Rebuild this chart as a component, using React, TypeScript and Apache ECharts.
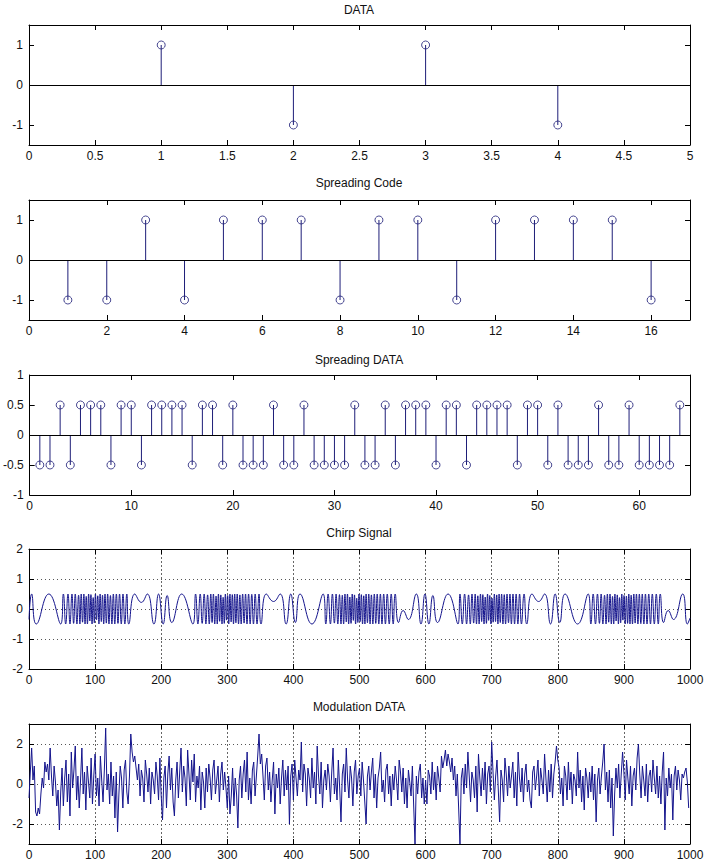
import React, { useEffect, useRef } from "react";
import * as echarts from "echarts";

// ---------- DATA ----------
const titles = ["DATA", "Spreading Code", "Spreading DATA", "Chirp Signal", "Modulation DATA"];

const dataX = [1, 2, 3, 4];
const dataY = [1, -1, 1, -1];

const codeY = [-1, -1, 1, -1, 1, 1, 1, -1, 1, 1, -1, 1, 1, 1, 1, -1];

const spreadY = [
  -0.5, -0.5, 0.5, -0.5, 0.5, 0.5, 0.5, -0.5, 0.5, 0.5, -0.5, 0.5, 0.5, 0.5, 0.5, -0.5,
  0.5, 0.5, -0.5, 0.5, -0.5, -0.5, -0.5, 0.5, -0.5, -0.5, 0.5, -0.5, -0.5, -0.5, -0.5, 0.5,
  -0.5, -0.5, 0.5, -0.5, 0.5, 0.5, 0.5, -0.5, 0.5, 0.5, -0.5, 0.5, 0.5, 0.5, 0.5, -0.5,
  0.5, 0.5, -0.5, 0.5, -0.5, -0.5, -0.5, 0.5, -0.5, -0.5, 0.5, -0.5, -0.5, -0.5, -0.5, 0.5,
];

// chirp signal: [sample, value] turning points
const chirpPoints: number[][] = [
  [0, -0.35], [4, 0.5], [11, -0.5], [30, 0.5], [48, -0.5],
  [52, 0.5], [55.5, -0.5], [59, 0.5], [62, -0.5], [65, 0.5], [67.5, -0.48], [70, 0.5], [72.5, -0.5], [75, 0.46], [77, -0.5],
  [79, 0.5], [81, -0.44], [83, 0.5], [84.8, -0.5], [86.6, 0.42], [88.4, -0.5], [90.2, 0.5], [92, -0.4], [93.7, 0.48], [95.4, -0.5],
  [97.1, 0.38], [98.8, -0.46], [100.5, 0.5], [102.2, -0.36], [104, 0.44], [105.8, -0.5], [107.6, 0.5], [109.4, -0.42], [111.2, 0.46], [113, -0.5],
  [115, 0.5], [117, -0.47], [119, 0.5], [121, -0.5], [123.2, 0.45], [125.4, -0.5], [127.6, 0.5], [129.8, -0.5], [132.2, 0.5], [134.6, -0.48],
  [137, 0.5], [139.6, -0.5], [142.2, 0.5], [145, -0.5], [148, 0.5],
  [151, -0.5], [160, 0.5], [170, 0.22], [179, 0.5], [189, -0.5], [196, 0.5], [203, -0.5], [209, 0.45], [216, -0.45], [231, 0.5], [248, -0.5],
  [252, 0.5], [255.5, -0.5], [259, 0.5], [262, -0.48], [265, 0.5], [267.6, -0.5], [270.2, 0.47], [272.7, -0.5], [275, 0.5], [277, -0.45],
  [279, 0.5], [281, -0.5], [283, 0.43], [284.8, -0.5], [286.6, 0.5], [288.4, -0.41], [290.2, 0.47], [292, -0.5], [293.7, 0.39], [295.4, -0.48],
  [297.1, 0.5], [298.8, -0.37], [300.5, 0.45], [302.2, -0.5], [304, 0.5], [305.8, -0.43], [307.6, 0.48], [309.4, -0.5], [311.2, 0.5], [313, -0.46],
  [315, 0.5], [317, -0.5], [319, 0.47], [321, -0.5], [323.2, 0.5], [325.4, -0.47], [327.6, 0.5], [329.8, -0.5], [332.2, 0.5], [334.6, -0.5],
  [337, 0.49], [339.6, -0.5], [342.2, 0.5], [345, -0.5], [348, 0.5],
  [351, -0.5], [359, 0.5], [370, 0.25], [380, 0.5], [389, -0.5], [396, 0.5], [403, -0.45], [410, 0.5], [428, -0.5], [445, 0.5],
  [449, -0.5], [452.5, 0.5], [456, -0.5], [459, 0.5], [462, -0.47], [464.6, 0.5], [467.2, -0.5], [469.7, 0.48], [472, -0.5], [474, 0.46],
  [476, -0.5], [478, 0.5], [480, -0.43], [481.8, 0.5], [483.6, -0.5], [485.4, 0.4], [487.2, -0.48], [489, 0.5], [490.7, -0.38], [492.4, 0.47],
  [494.1, -0.5], [495.8, 0.36], [497.5, -0.45], [499.2, 0.5], [501, -0.42], [502.8, 0.48], [504.6, -0.5], [506.4, 0.44], [508.2, -0.5], [510, 0.5],
  [512, -0.46], [514, 0.5], [516, -0.5], [518, 0.47], [520.2, -0.5], [522.4, 0.5], [524.6, -0.48], [526.8, 0.5], [529.2, -0.5], [531.6, 0.5],
  [534, -0.5], [536.6, 0.5], [539.2, -0.5], [542, 0.5], [545, -0.5], [548, 0.5], [551, -0.5], [554, 0.5],
  [559, -0.45], [566, -0.05], [574, -0.35], [586, 0.5], [593, -0.5], [599, 0.5], [605, -0.5], [611, 0.45], [618, -0.45], [634, 0.5], [649, -0.5],
  [652, 0.5], [655.5, -0.5], [659, 0.5], [662, -0.5], [665, 0.47], [667.6, -0.5], [670.2, 0.5], [672.7, -0.47], [675, 0.5], [677, -0.5],
  [679, 0.44], [681, -0.5], [683, 0.5], [684.8, -0.42], [686.6, 0.48], [688.4, -0.5], [690.2, 0.4], [692, -0.48], [693.7, 0.5], [695.4, -0.38],
  [697.1, 0.45], [698.8, -0.5], [700.5, 0.36], [702.2, -0.44], [704, 0.5], [705.8, -0.42], [707.6, 0.47], [709.4, -0.5], [711.2, 0.5], [713, -0.45],
  [715, 0.5], [717, -0.5], [719, 0.48], [721, -0.5], [723.2, 0.5], [725.4, -0.46], [727.6, 0.5], [729.8, -0.5], [732.2, 0.5], [734.6, -0.5],
  [737, 0.5], [739.6, -0.5], [742.2, 0.5], [745, -0.5], [749, 0.5],
  [753, -0.5], [761, 0.5], [771, 0.25], [780, 0.5], [789, -0.5], [796, 0.5], [803, -0.45], [811, 0.5], [830, -0.5], [846, 0.5],
  [850, -0.5], [853.5, 0.5], [857, -0.5], [860, 0.5], [863, -0.48], [865.6, 0.5], [868.2, -0.5], [870.7, 0.46], [873, -0.5], [875, 0.5],
  [877, -0.44], [879, 0.5], [881, -0.5], [882.8, 0.42], [884.6, -0.5], [886.4, 0.5], [888.2, -0.4], [890, 0.47], [891.7, -0.5], [893.4, 0.38],
  [895.1, -0.46], [896.8, 0.5], [898.5, -0.37], [900.2, 0.45], [902, -0.5], [903.8, 0.43], [905.6, -0.48], [907.4, 0.5], [909.2, -0.5], [911, 0.46],
  [913, -0.5], [915, 0.5], [917, -0.47], [919, 0.5], [921.2, -0.5], [923.4, 0.5], [925.6, -0.49], [927.8, 0.5], [930.2, -0.5], [932.6, 0.5],
  [935, -0.5], [937.6, 0.5], [940.2, -0.5], [943, 0.5], [946, -0.5], [949, 0.5], [952, -0.5], [955, 0.5],
  [960, -0.45], [967, -0.05], [975, -0.35], [989, 0.5], [996, -0.5], [1000, -0.3],
];

// modulated data, every second sample (0, 2, 4, ... 998)
const modStep = 2;
const modY = [
  -0.7, 0.6, 1.8, 0.2, 0.9, -1.4, -1.6, -1.2, -1.5, -0.5, 0.3, -0.2, 1.1, 0.6, 1.0, 0.2, 1.8, 0.4, -0.6, 0.9, 0.1, -1.1, -0.3, -2.3, -0.4,
  0.8, -1.1, 0.3, 1.2, -0.9, 0.5, -1.6, 1.6, -0.2, 0.7, 1.9, -0.8, 0.4, -1.2, 0.2, 1.8, -0.5, 0.6, -1.3, 0.9, 0.1, -0.7, 1.3, -1.0, 0.4,
  1.5, -0.6, 0.3, -1.1, 1.4, 0.2, -0.9, 0.7, 2.8, -0.3, 0.5, -1.0, 1.1, -0.6, 0.4, -1.7, 0.6, -2.4, -0.5, 0.9, 0.3, -1.2, 0.7, 1.2, -0.4,
  -1.0, 0.4, 2.5, 1.6, 1.1, 1.4, 0.8, 0.2, 1.0, -0.6, 0.7, 0.3, -0.9, 1.2, 0.5, -0.4, 0.8, -1.0, 0.6, 0.2, -0.5, 1.1, 0.4, -0.8, 1.3,
  -0.6, -1.8, 0.3, 0.9, -1.2, 0.5, 1.4, -0.3, 0.8, -0.9, -1.6, 0.2, 1.1, -0.7, 0.6, 1.8, -0.4, 0.9, 0.3, -1.1, 1.7, 0.5, -0.8, 1.2, 0.1,
  1.5, -0.9, 0.4, -0.2, 0.9, -1.3, 0.6, 0.1, -1.2, 0.8, -0.4, 1.0, 0.3, -0.8, 0.7, 1.2, -0.5, 0.2, 0.9, -0.9, 0.5, 1.1, -0.3, 0.6, -0.2,
  -1.2, 0.4, -1.5, -0.6, 0.8, -1.1, 0.3, -0.5, -2.2, 0.2, 0.9, -0.7, 0.5, 1.2, -0.4, 1.6, -0.8, 0.3, -1.0, 0.7, 1.1, -0.6, 0.4, 1.4, 2.5,
  1.0, 1.5, 0.4, -0.8, 0.9, 1.3, -0.3, 0.6, -0.9, 0.2, 1.1, -1.5, 0.5, -0.2, 0.8, -1.0, 0.3, 1.2, -0.6, 0.7, -0.3, 0.9, -2.0, 0.4, 1.0,
  -0.8, 1.2, 0.3, -0.6, 0.7, 0.2, 2.1, -0.4, 1.0, 0.5, -1.1, 0.8, 0.3, -0.7, 1.3, -0.2, 0.6, -1.0, 1.9, 0.4, -0.5, 1.1, -1.2, 0.2, 0.7,
  -0.3, 1.0, 0.4, -0.9, 0.6, 1.8, -0.5, 0.3, -0.8, 1.2, -0.2, -1.9, 0.5, 1.0, -0.4, 1.8, 0.2, -0.7, 0.9, 0.3, -1.1, 0.6, 1.2, -0.5, 0.4,
  0.8, -0.6, 1.1, 0.2, -0.9, -2.0, 0.4, 0.9, -0.3, 0.6, 1.3, -0.7, 0.5, -1.2, 0.3, 0.8, 1.6, -0.4, 0.2, -0.9, 0.7, 1.0, -0.5, 0.4, -1.1,
  0.5, -0.3, 0.9, 0.2, -0.8, 1.2, 0.6, -0.4, 0.8, -1.0, 0.3, -1.2, 0.7, 0.1, -0.6, 0.9, -1.1, -3.0, 0.4, -0.5, 0.6, 1.0, -0.7, 0.3, -1.0,
  0.2, -1.0, 0.7, 0.4, -0.5, 1.1, -0.3, 0.6, -0.8, 0.9, 0.3, -0.4, 1.4, 0.8, 1.2, 1.7, 0.9, 1.5, 1.1, 0.6, 1.3, 0.2, 0.9, -0.6, 0.5,
  -1.2, -3.0, 0.3, 0.8, -0.5, 1.0, -0.2, 1.6, 0.4, -0.9, 0.6, 0.2, -0.7, 0.9, -1.4, 1.5, 0.3, -0.6, 0.8, -0.3, 1.1, -1.0, 0.5, 0.9, -0.4,
  2.1, 0.6, -0.8, 0.4, 1.2, -0.3, -1.9, 0.7, 0.2, -0.9, 1.3, 0.5, -0.6, 0.9, -0.2, 0.4, 1.1, -0.7, 0.6, -1.1, 1.6, 0.3, -0.4, 0.8, -0.9,
  0.5, 1.0, -0.4, 0.2, -0.8, -1.2, 0.6, 0.9, -0.3, 0.4, 1.2, -0.6, 0.8, 0.2, -0.5, 1.5, 0.3, -0.9, 0.7, -0.4, 1.0, -0.7, 0.5, 1.1, 1.9,
  1.2, 0.8, -0.5, 0.3, -1.1, 0.9, 0.4, -0.8, 1.1, -0.3, 0.6, -1.0, 0.5, 0.2, -0.6, 1.6, -0.2, 0.7, -0.9, 0.4, -1.3, 0.8, 0.3, -0.7, 0.6,
  -0.4, 0.9, -0.8, 0.5, -1.9, 0.2, 0.8, -0.5, 0.4, 1.1, 2.0, -0.3, 0.6, -0.9, 0.7, -1.2, 0.3, -2.6, -0.5, 0.8, -0.2, 1.0, -0.7, 0.5, 1.6,
  0.6, -0.8, 1.2, 0.3, -0.5, 0.9, -1.1, 0.4, 0.8, -0.3, 1.3, 2.0, 0.5, -0.7, 0.9, 0.2, -0.6, 1.0, -0.9, 0.4, 0.7, -0.4, 1.2, 0.3, -0.5,
  0.9, -0.7, 0.4, -1.0, 0.6, 1.6, -2.3, 0.3, -0.6, 0.8, -0.2, 0.5, -1.8, 0.4, 0.9, -0.3, 0.7, 0.2, -0.8, 0.5, 0.3, 0.6, 0.8, 0.1, -1.2,
];

// axis ranges and tick settings per panel
const xRanges = [[0, 5, 0.5], [0, 17, 2], [0, 65, 10], [0, 1000, 100], [0, 1000, 100]];
const yRanges = [[-1.5, 1.5, 1], [-1.5, 1.5, 1], [-1, 1, 0.5], [-2, 2, 1], [-3, 3, 1]];
const yTickValues: (number[] | null)[] = [[-1, 0, 1], [-1, 0, 1], null, null, [-2, 0, 2]];
const showXMax = [true, false, false, true, true];

// ---------- STYLE ----------
const FONT = "Liberation Sans, Arial, sans-serif";
const STEM = "#1e1e78";
const LINE = "#14148c";
const gridTops = [25, 200, 375, 549, 724];
const titleTops = [4, 177, 354, 527, 701];
const withGrid = [false, false, false, true, true];
const fmt = (v: number) => String(v);

function buildOption() {
  const grid: any[] = [];
  const xAxis: any[] = [];
  const yAxis: any[] = [];
  const title: any[] = [];
  const series: any[] = [];

  for (let i = 0; i < 5; i++) {
    grid.push({ left: 29, top: gridTops[i], width: 661, height: 120 });
    title.push({
      text: titles[i],
      left: "center",
      top: titleTops[i],
      padding: 0,
      textStyle: { fontFamily: FONT, fontSize: 12, fontWeight: "normal", color: "#111" },
    });
    const [xmin, xmax, xint] = xRanges[i];
    const [ymin, ymax, yint] = yRanges[i];
    const tickVals = yTickValues[i];
    const baseTick = { show: true, inside: true, length: 5, lineStyle: { color: "#000", width: 1 } };
    const axisLine = { show: true, onZero: false, lineStyle: { color: "#000", width: 1 } };
    xAxis.push({
      type: "value", gridIndex: i, min: xmin, max: xmax, interval: xint, position: "bottom",
      axisLine, axisTick: baseTick,
      axisLabel: { color: "#111", fontFamily: FONT, fontSize: 12, margin: 5, showMinLabel: true, showMaxLabel: showXMax[i], formatter: fmt },
      splitLine: { show: withGrid[i], lineStyle: { color: "#666", width: 1, type: [2, 2] } },
    });
    xAxis.push({
      type: "value", gridIndex: i, min: xmin, max: xmax, interval: xint, position: "top",
      axisLine, axisTick: baseTick, axisLabel: { show: false }, splitLine: { show: false },
    });
    const yTick: any = tickVals ? { ...baseTick, customValues: tickVals } : baseTick;
    const yLabel: any = { color: "#111", fontFamily: FONT, fontSize: 12, margin: 6, showMinLabel: true, showMaxLabel: true, formatter: fmt };
    if (tickVals) yLabel.customValues = tickVals;
    yAxis.push({
      type: "value", gridIndex: i, min: ymin, max: ymax, interval: yint, position: "left",
      axisLine, axisTick: yTick, axisLabel: yLabel,
      splitLine: { show: withGrid[i], lineStyle: { color: "#555", width: 1, type: [1, 3] } },
    });
    yAxis.push({
      type: "value", gridIndex: i, min: ymin, max: ymax, interval: yint, position: "right",
      axisLine, axisTick: yTick, axisLabel: { show: false }, splitLine: { show: false },
    });
  }

  const stemPanels = [
    dataX.map((x, k) => [x, dataY[k]]),
    codeY.map((v, k) => [k + 1, v]),
    spreadY.map((v, k) => [k + 1, v]),
  ];
  stemPanels.forEach((pts, i) => {
    series.push({
      type: "custom",
      xAxisIndex: i * 2,
      yAxisIndex: i * 2,
      data: pts,
      encode: { x: 0, y: 1 },
      renderItem: (_p: any, api: any) => {
        const x = api.value(0);
        const y = api.value(1);
        const a = api.coord([x, 0]);
        const b = api.coord([x, y]);
        return {
          type: "line",
          shape: { x1: a[0], y1: a[1], x2: b[0], y2: b[1] },
          style: { stroke: STEM, lineWidth: 1 },
        };
      },
      markLine: {
        silent: true,
        symbol: ["none", "none"],
        label: { show: false },
        lineStyle: { color: "#000", type: "solid", width: 1 },
        data: [{ yAxis: 0 }],
      },
      z: 2,
    });
    series.push({
      type: "scatter",
      xAxisIndex: i * 2,
      yAxisIndex: i * 2,
      data: pts,
      symbol: "circle",
      symbolSize: 8,
      itemStyle: { color: "rgba(0,0,0,0)", borderColor: STEM, borderWidth: 1 },
      z: 3,
    });
  });

  series.push({
    type: "line",
    xAxisIndex: 6,
    yAxisIndex: 6,
    data: chirpPoints,
    showSymbol: false,
    smooth: 0.5,
    lineStyle: { color: LINE, width: 1 },
    z: 3,
  });
  series.push({
    type: "line",
    xAxisIndex: 8,
    yAxisIndex: 8,
    data: modY.map((v, k) => [k * modStep, v]),
    showSymbol: false,
    lineStyle: { color: LINE, width: 1 },
    z: 3,
  });

  return { animation: false, backgroundColor: "#fff", title, grid, xAxis, yAxis, series };
}

export default function App() {
  const ref = useRef<HTMLDivElement>(null);
  useEffect(() => {
    if (!ref.current) return;
    const chart = echarts.init(ref.current, null, { renderer: "svg" });
    chart.setOption(buildOption());
    return () => chart.dispose();
  }, []);
  return (
    <div
      ref={ref}
      style={{ position: "absolute", left: 0, top: 0, width: 718, height: 867, background: "#fff" }}
    />
  );
}
